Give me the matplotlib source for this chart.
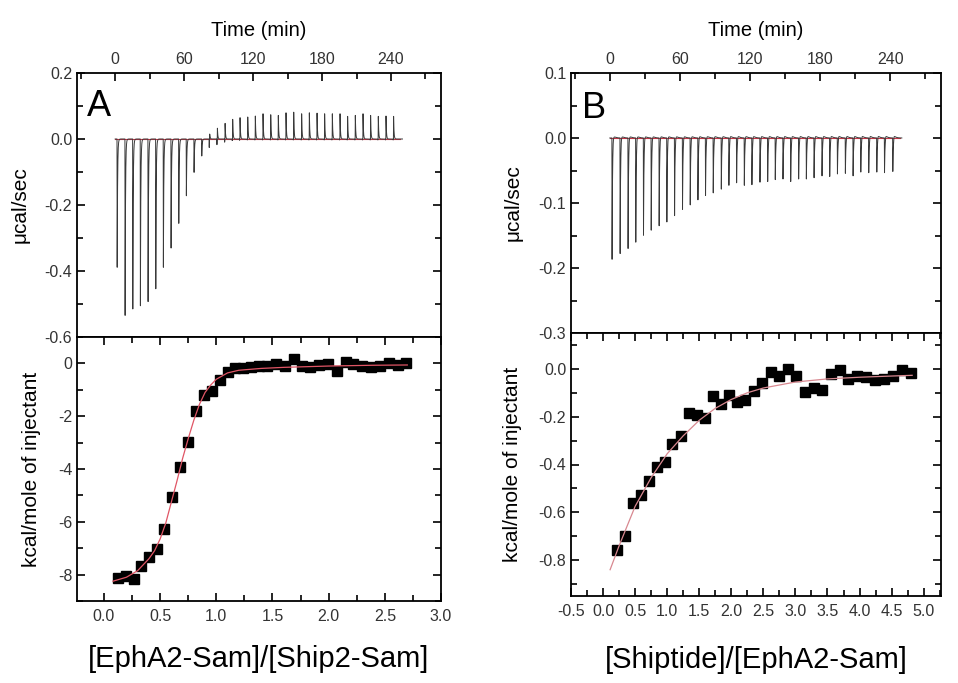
import numpy as np
import matplotlib
matplotlib.use("Agg")
import matplotlib.pyplot as plt
from matplotlib.ticker import MultipleLocator, FixedLocator, FuncFormatter

plt.rcParams['font.family'] = ['Liberation Sans', 'DejaVu Sans']

# ---------------- data ----------------
# Panel A raw thermogram: injection times (min), peak heights (ucal/s), small pre-dips
A_inj_time = [1.2, 8.1, 14.8, 21.4, 28.1, 34.8, 41.4, 48.1, 54.8, 61.4, 68.1, 74.8,
              81.7, 88.4, 95.1, 101.7, 108.1, 114.8, 121.4, 128.1, 134.8, 141.4, 148.1,
              154.8, 161.7, 168.4, 175.1, 181.7, 188.4, 195.1, 201.7, 208.4, 215.1,
              221.7, 228.4, 235.1, 241.7]
A_peak = [-0.40, -0.55, -0.53, -0.52, -0.507, -0.467, -0.40, -0.34, -0.263, -0.177,
          -0.104, -0.053, 0.019, 0.036, 0.05, 0.062, 0.067, 0.069, 0.072, 0.079, 0.076,
          0.074, 0.082, 0.084, 0.079, 0.082, 0.081, 0.079, 0.079, 0.079, 0.071, 0.074,
          0.079, 0.074, 0.071, 0.072, 0.071]
A_dip = [0, 0, 0, 0, 0, 0, 0, 0, 0, 0, 0, 0, -0.027, -0.018, -0.010, -0.005, -0.004,
         -0.003, -0.003, -0.003, -0.003, -0.003, -0.003, -0.003, -0.003, -0.003, -0.003,
         -0.003, -0.003, -0.003, -0.003, -0.003, -0.003, -0.003, -0.003, -0.003, -0.003]

# Panel A integrated heats
A_ratio = [0.124, 0.198, 0.266, 0.331, 0.40, 0.47, 0.535, 0.607, 0.678, 0.746, 0.82,
           0.888, 0.959, 1.03, 1.10, 1.17, 1.24, 1.31, 1.38, 1.455, 1.53, 1.61, 1.69,
           1.76, 1.83, 1.91, 1.99, 2.07, 2.15, 2.22, 2.30, 2.38, 2.46, 2.54, 2.62, 2.69]
A_heat = [-8.13, -8.06, -8.15, -7.68, -7.34, -7.03, -6.27, -5.06, -3.94, -2.99, -1.80,
          -1.20, -1.04, -0.63, -0.34, -0.19, -0.19, -0.15, -0.09, -0.09, -0.03, -0.08,
          0.16, -0.08, -0.13, -0.05, -0.03, -0.28, 0.06, -0.04, -0.10, -0.15, -0.10,
          0.03, -0.05, 0.0]
A_fit_x = [0.08, 0.2, 0.3, 0.4, 0.45, 0.5, 0.55, 0.6, 0.65, 0.7, 0.75, 0.8, 0.85, 0.9,
           0.95, 1.0, 1.1, 1.2, 1.4, 1.6, 2.0, 2.4, 2.7]
A_fit_y = [-8.25, -8.1, -7.85, -7.4, -7.1, -6.65, -6.05, -5.25, -4.45, -3.6, -2.85,
           -2.15, -1.55, -1.1, -0.82, -0.6, -0.36, -0.26, -0.19, -0.15, -0.1, -0.07, -0.06]

# Panel B raw thermogram
B_inj_time = [1.4, 8.3, 15.1, 21.7, 28.3, 34.9, 41.7, 48.3, 54.9, 61.7, 68.3, 74.9,
              81.4, 88.0, 94.9, 101.4, 108.0, 114.6, 121.1, 128.0, 134.6, 141.1, 147.7,
              154.3, 161.1, 167.7, 174.3, 181.1, 187.7, 194.3, 201.1, 207.7, 214.3,
              221.1, 228.0, 234.6, 241.7]
B_peak = [-0.192, -0.183, -0.175, -0.165, -0.154, -0.146, -0.139, -0.133, -0.123, -0.113,
          -0.106, -0.098, -0.091, -0.087, -0.081, -0.075, -0.071, -0.075, -0.074, -0.070,
          -0.069, -0.066, -0.065, -0.069, -0.065, -0.065, -0.063, -0.060, -0.061, -0.057,
          -0.056, -0.060, -0.054, -0.055, -0.054, -0.055, -0.053]

# Panel B integrated heats
B_ratio = [0.223, 0.348, 0.472, 0.592, 0.717, 0.841, 0.961, 1.08, 1.21, 1.334, 1.459,
           1.584, 1.713, 1.843, 1.968, 2.09, 2.217, 2.347, 2.477, 2.612, 2.747, 2.882,
           3.011, 3.146, 3.287, 3.416, 3.557, 3.692, 3.827, 3.967, 4.102, 4.242, 4.377,
           4.517, 4.662, 4.803]
B_heat = [-0.759, -0.700, -0.560, -0.526, -0.467, -0.409, -0.388, -0.315, -0.281, -0.186,
          -0.194, -0.205, -0.115, -0.149, -0.110, -0.139, -0.131, -0.093, -0.058, -0.014,
          -0.028, 0.0, -0.030, -0.098, -0.082, -0.089, -0.021, -0.004, -0.042, -0.028,
          -0.035, -0.045, -0.042, -0.030, -0.004, -0.017]
B_fit_x = [0.11, 0.25, 0.5, 0.75, 1.0, 1.25, 1.5, 1.75, 2.0, 2.25, 2.5, 3.0, 3.5, 4.0,
           4.5, 4.82]
B_fit_y = [-0.84, -0.74, -0.575, -0.455, -0.355, -0.28, -0.215, -0.165, -0.128, -0.10,
           -0.08, -0.055, -0.042, -0.035, -0.03, -0.027]

time_ticks = [0, 60, 120, 180, 240]
A_xlabel = "[EphA2-Sam]/[Ship2-Sam]"
B_xlabel = "[Shiptide]/[EphA2-Sam]"


# ---------------- helpers ----------------
def pulse(s, rise, tau):
    out = np.zeros_like(s)
    m1 = (s >= 0) & (s < rise)
    out[m1] = s[m1] / rise
    m2 = s >= rise
    out[m2] = np.exp(-(s[m2] - rise) / tau)
    return out


def thermogram(t, times, peaks, dips=None, overshoot=0.0):
    y = np.zeros_like(t)
    if dips is None:
        dips = [0.0] * len(times)
    for ti, a, d in zip(times, peaks, dips):
        s = t - ti
        y += a * pulse(s - 0.4, 0.15, 0.35)
        y += d * pulse(s, 0.15, 0.2)
        if overshoot:
            y += overshoot * pulse(s - 1.2, 0.4, 1.5)
    return y


TXT = '#333333'


def style_axes(ax):
    for sp in ax.spines.values():
        sp.set_linewidth(1.3)
        sp.set_color('black')
    ax.tick_params(which='both', direction='in', colors='black', labelcolor=TXT,
                   labelsize=11.5, width=1.2)
    ax.tick_params(which='major', length=6)
    ax.tick_params(which='minor', length=4)


W, H = 958, 683
fig = plt.figure(figsize=(W / 100, H / 100), dpi=100)


def fr(x0, y0, x1, y1):
    return [x0 / W, 1 - y1 / H, (x1 - x0) / W, (y1 - y0) / H]


axA1 = fig.add_axes(fr(77, 73, 441, 337))
axA2 = fig.add_axes(fr(77, 337, 441, 601))
axB1 = fig.add_axes(fr(571, 73, 941, 333))
axB2 = fig.add_axes(fr(571, 333, 941, 596))

t = np.arange(0.0, 250.0, 0.02)

# ---- top panels ----
for ax, times, peaks, dips, ylim, ymaj, ymin, ov, letter, lx, ly, ymtext in [
        (axA1, A_inj_time, A_peak, A_dip, (-0.6, 0.2), 0.2, 0.1, 0.0, 'A', 0.027, 0.94, -0.129),
        (axB1, B_inj_time, B_peak, None, (-0.3, 0.1), 0.1, 0.05, 0.004, 'B', 0.03, 0.93, -0.132)]:
    y = thermogram(t, times, peaks, dips, ov)
    ax.plot([0, 248], [0, 0], color='#cc3344', lw=0.8, zorder=1)
    ax.plot(t, y, color='#3a3a3a', lw=0.7, zorder=2)
    ax.set_xlim(-33.2, 283.5)
    ax.set_ylim(*ylim)
    style_axes(ax)
    ax.xaxis.set_major_locator(FixedLocator(time_ticks))
    ax.xaxis.set_minor_locator(MultipleLocator(30))
    ax.yaxis.set_major_locator(MultipleLocator(ymaj))
    ax.yaxis.set_minor_locator(MultipleLocator(ymin))
    ax.yaxis.set_major_formatter(FuncFormatter(lambda v, p: f"{v:.1f}".replace('-0.0', '0.0')))
    ax.tick_params(axis='x', which='both', top=True, bottom=False, labeltop=True,
                   labelbottom=False, pad=4)
    ax.tick_params(axis='y', which='both', left=True, right=True)
    ax.xaxis.set_label_position('top')
    ax.set_xlabel('Time (min)', fontsize=14.5, color='black', labelpad=12)
    ax.set_ylabel('\u03bccal/sec', fontsize=15, color='black')
    ax.yaxis.set_label_coords(ymtext, 0.5)
    ax.text(lx, ly, letter, transform=ax.transAxes, fontsize=26, va='top', ha='left',
            color='black')

# ---- bottom panels ----
axA2.plot(A_fit_x, A_fit_y, color='#e05565', lw=0.9, zorder=3)
axA2.plot(A_ratio, A_heat, 's', color='black', ms=7, zorder=2)
axA2.set_xlim(-0.24, 3.0)
axA2.set_ylim(-9, 1)
style_axes(axA2)
axA2.xaxis.set_major_locator(MultipleLocator(0.5))
axA2.xaxis.set_minor_locator(MultipleLocator(0.25))
axA2.yaxis.set_major_locator(FixedLocator([0, -2, -4, -6, -8]))
axA2.yaxis.set_minor_locator(MultipleLocator(1))
axA2.xaxis.set_major_formatter(FuncFormatter(lambda v, p: f"{v:.1f}"))
axA2.yaxis.set_major_formatter(FuncFormatter(lambda v, p: f"{v:.0f}"))
axA2.set_xlabel(A_xlabel, fontsize=21, color='black')
axA2.xaxis.set_label_coords(0.5, -0.165)
axA2.set_ylabel('kcal/mole of injectant', fontsize=15, color='black')
axA2.yaxis.set_label_coords(-0.10, 0.5)

axB2.plot(B_fit_x, B_fit_y, color='#d88890', lw=0.9, zorder=3)
axB2.plot(B_ratio, B_heat, 's', color='black', ms=7, zorder=2)
axB2.set_xlim(-0.5, 5.27)
axB2.set_ylim(-0.95, 0.15)
style_axes(axB2)
axB2.xaxis.set_major_locator(MultipleLocator(0.5))
axB2.xaxis.set_minor_locator(MultipleLocator(0.25))
axB2.yaxis.set_major_locator(FixedLocator([0.0, -0.2, -0.4, -0.6, -0.8]))
axB2.yaxis.set_minor_locator(MultipleLocator(0.1))
axB2.xaxis.set_major_formatter(FuncFormatter(lambda v, p: f"{v:.1f}".replace('-0.0', '0.0')))
axB2.yaxis.set_major_formatter(FuncFormatter(lambda v, p: f"{v:.1f}".replace('-0.0', '0.0')))
axB2.set_xlabel(B_xlabel, fontsize=21, color='black')
axB2.xaxis.set_label_coords(0.5, -0.19)
axB2.set_ylabel('kcal/mole of injectant', fontsize=15, color='black')
axB2.yaxis.set_label_coords(-0.132, 0.5)

for ax in (axA2, axB2):
    ax.tick_params(axis='x', which='both', top=True, bottom=True)
    ax.tick_params(axis='y', which='both', left=True, right=True)
    ax.tick_params(axis='x', which='both', pad=6)

fig.savefig('out.png', dpi=100)
